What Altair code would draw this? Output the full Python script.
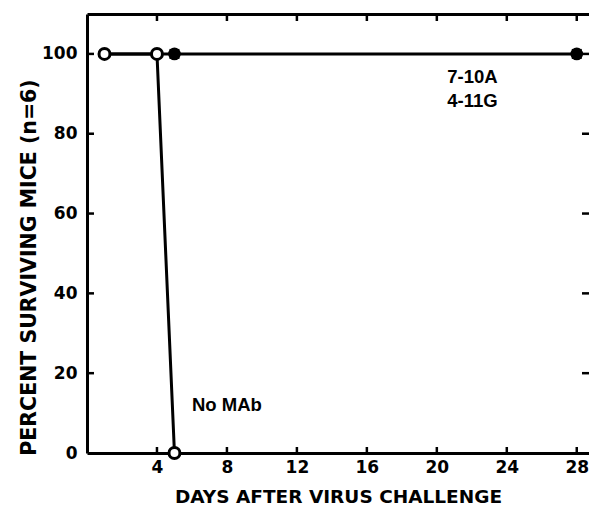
import altair as alt
import pandas as pd

# ---- data ----
days_nomab = [1, 4, 5]
surv_nomab = [100, 100, 0]
days_treated = [1, 5, 28]
surv_treated = [100, 100, 100]
days_710a = [5, 28]
surv_710a = [100, 100]
days_411g = [5, 28]
surv_411g = [100, 100]
x_ticks = [4, 8, 12, 16, 20, 24, 28]
y_ticks = [0, 20, 40, 60, 80, 100]
ann_text = ["7-10A", "4-11G", "No MAb"]
ann_day = [20.6, 20.6, 6.0]
ann_val = [94.2, 88.3, 12.0]

W, H = 502, 439
XDOM = [0, 28.7]
YDOM = [0, 110]
TF = "DejaVu Sans"
AF = "Liberation Sans"

xs = alt.Scale(domain=XDOM, nice=False, zero=False)
ys = alt.Scale(domain=YDOM, nice=False)

nomab = pd.DataFrame({"day": days_nomab, "pct": surv_nomab})
treated = pd.DataFrame({"day": days_treated, "pct": surv_treated})
m710 = pd.DataFrame({"day": days_710a, "pct": surv_710a})
m411 = pd.DataFrame({"day": days_411g, "pct": surv_411g})
xt = pd.DataFrame({"day": x_ticks})
yt = pd.DataFrame({"pct": y_ticks[1:]})
ann = pd.DataFrame({"t": ann_text, "day": ann_day, "pct": ann_val})

x_bottom = alt.Axis(
    orient="bottom", values=x_ticks, ticks=False, grid=False,
    domainColor="black", domainWidth=3,
    labelFont=TF, labelFontWeight="bold", labelFontSize=17, labelColor="black",
    labelPadding=6,
    title="DAYS AFTER VIRUS CHALLENGE", titleFont=TF, titleFontWeight="bold",
    titleFontSize=18.5, titleColor="black", titlePadding=12,
)
y_left = alt.Axis(
    orient="left", values=y_ticks, ticks=False, grid=False,
    domainColor="black", domainWidth=3,
    labelFont=TF, labelFontWeight="bold", labelFontSize=17, labelColor="black",
    labelPadding=10,
    title="PERCENT SURVIVING MICE (n=6)", titleFont=TF, titleFontWeight="bold",
    titleFontSize=20.5, titleColor="black",
    titleX=-58, titleY=253, titleBaseline="middle", titleAlign="center", titleAngle=270,
)
x_top = alt.Axis(orient="top", labels=False, ticks=False, grid=False,
                 domainColor="black", domainWidth=3, title=None)

line_t = alt.Chart(treated).mark_line(color="black", strokeWidth=3).encode(
    x=alt.X("day:Q", scale=xs, axis=x_bottom),
    y=alt.Y("pct:Q", scale=ys, axis=y_left),
)
line_n = alt.Chart(nomab).mark_line(color="black", strokeWidth=3).encode(
    x=alt.X("day:Q", scale=xs, axis=None),
    y=alt.Y("pct:Q", scale=ys, axis=None),
)
top_axis = alt.Chart(xt).mark_point(opacity=0).encode(
    x=alt.X("day:Q", scale=xs, axis=x_top),
    y=alt.value(0),
)
pt_411 = alt.Chart(m411).mark_point(shape="square", filled=True, color="black", size=100, opacity=1).encode(
    x=alt.X("day:Q", scale=xs, axis=None),
    y=alt.Y("pct:Q", scale=ys, axis=None),
)
pt_710 = alt.Chart(m710).mark_point(shape="circle", filled=True, color="black", size=160, opacity=1).encode(
    x=alt.X("day:Q", scale=xs, axis=None),
    y=alt.Y("pct:Q", scale=ys, axis=None),
)
pt_n = alt.Chart(nomab).mark_point(shape="circle", filled=True, fill="white", stroke="black",
                                   strokeWidth=3, size=120, opacity=1).encode(
    x=alt.X("day:Q", scale=xs, axis=None),
    y=alt.Y("pct:Q", scale=ys, axis=None),
)

tick_b = alt.Chart(xt).mark_rule(color="black", strokeWidth=2.5).encode(
    x=alt.X("day:Q", scale=xs, axis=None), y=alt.value(H), y2=alt.value(H - 6))
tick_t = alt.Chart(xt).mark_rule(color="black", strokeWidth=2.5).encode(
    x=alt.X("day:Q", scale=xs, axis=None), y=alt.value(0), y2=alt.value(7))
tick_l = alt.Chart(yt).mark_rule(color="black", strokeWidth=2.5).encode(
    y=alt.Y("pct:Q", scale=ys, axis=None), x=alt.value(0), x2=alt.value(7))
tick_r = alt.Chart(yt).mark_rule(color="black", strokeWidth=2.5).encode(
    y=alt.Y("pct:Q", scale=ys, axis=None), x=alt.value(W), x2=alt.value(W - 7))

texts = alt.Chart(ann).mark_text(align="left", baseline="middle", font=AF,
                                 fontWeight="bold", fontSize=18.5, color="black").encode(
    x=alt.X("day:Q", scale=xs, axis=None),
    y=alt.Y("pct:Q", scale=ys, axis=None),
    text="t:N",
)

chart = alt.layer(
    line_t, top_axis, line_n, tick_b, tick_t, tick_l, tick_r,
    pt_411, pt_710, pt_n, texts,
).resolve_axis(x="independent", y="independent").properties(
    width=W, height=H,
    autosize=alt.AutoSizeParams(type="none"),
    padding={"left": 79, "top": 6, "right": 0, "bottom": 54},
    background="white",
).configure_view(stroke=None)

chart.save("out.html", embed_options={"renderer": "svg", "actions": False})
